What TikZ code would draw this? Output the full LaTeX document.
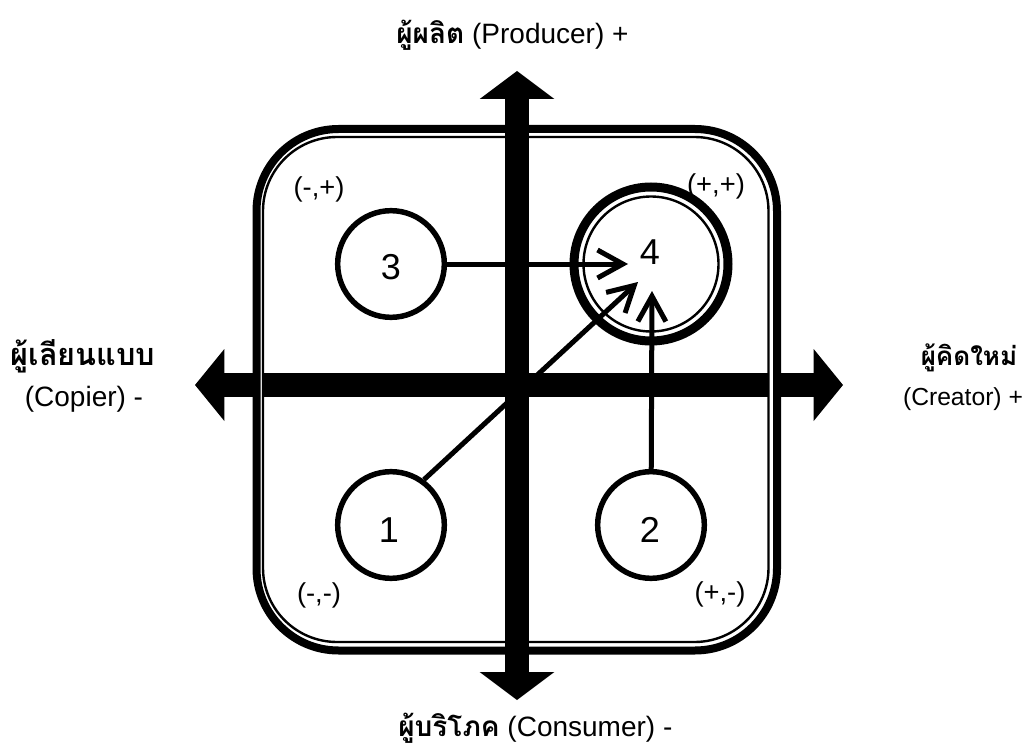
\documentclass[tikz,border=0pt]{standalone}
\usepackage{fontspec}
\setmainfont{Liberation Sans}
\newfontfamily\thaifont[Script=Thai]{Loma}
\usetikzlibrary{arrows.meta}
\begin{document}
\begin{tikzpicture}[x=0.75pt,y=-0.75pt,
  vaxis/.style={line width=18pt,
    {Triangle[length=21pt,width=56pt,line width=0pt]}-{Triangle[length=21pt,width=56pt,line width=0pt]}},
  haxis/.style={line width=17.5pt,
    {Triangle[length=22pt,width=54pt,line width=0pt]}-{Triangle[length=22pt,width=54pt,line width=0pt]}},
  circ/.style={circle,draw,line width=4.1pt,minimum size=80pt,inner sep=0pt,fill=white},
  ring/.style={circle,draw,line width=6.75pt,minimum size=115.5pt,inner sep=0pt,fill=white},
  num/.style={inner sep=0pt,font=\fontsize{27}{32}\selectfont},
  quad/.style={inner sep=0pt,font=\fontsize{20.5}{24}\selectfont},
  axlabel/.style={inner sep=0pt,font=\fontsize{21}{25}\selectfont},
  conn/.style={line width=3.75pt,-{Straight Barb[length=19pt,width=21pt,line width=3.75pt]}},
  th/.style={inner sep=0pt,font=\fontsize{21}{25}\selectfont\thaifont\bfseries}
]
\useasboundingbox (0,0) rectangle (1026,749);
% axis end points
\coordinate (L) at (195,385);
\coordinate (R) at (843,385);
\coordinate (T) at (517,71);
\coordinate (B) at (517,700);
% horizontal axis (under the frame)
\draw[haxis] (L) -- (R);
% frame
\draw[white,line width=6pt,rounded corners=58.5pt] (259.75,133) rectangle (773,646);
\draw[line width=6pt,rounded corners=61.5pt] (256.5,129) rectangle (777,650.5);
\draw[line width=1.8pt,rounded corners=55.5pt] (263,137) rectangle (768.5,642);
% vertical axis
\draw[vaxis] (B) -- (T);
% circles
\node[circ] (c3) at (391,264) {};
\node[circ] (c1) at (391,525) {};
\node[circ] (c2) at (651,525) {};
\node[ring] (c4) at (651,264) {};
\draw[line width=1.8pt] (c4.center) circle[radius=67.5];
% numbers
\node[num] (n3) at (391,267) {3};
\node[num] (n1) at (389,530) {1};
\node[num] (n2) at (650,530) {2};
\node[num] (n4) at (650,252) {4};
% arrow tips
\coordinate (t34) at (628,264);
\coordinate (t14) at (638,282);
\coordinate (t24) at (652,291);
\draw[conn] (c3) -- (t34);
\draw[conn] (c1.54) -- (t14);
\draw[conn] (c2) -- (t24);
% quadrant labels
\node[quad] (q1) at (319,189) {(-,+)};
\node[quad] (q2) at (716,186) {(+,+)};
\node[quad] (q3) at (319,595) {(-,-)};
\node[quad] (q4) at (720,594) {(+,-)};
% axis labels
\node[axlabel,anchor=base west] (lt) at (396,43.5) {{\thaifont\bfseries ผู้ผลิต} (Producer) +};
\node[axlabel,anchor=base west] (lb) at (398,736) {{\thaifont\bfseries ผู้บริโภค} (Consumer) -};
\node[th,anchor=base,font=\fontsize{23}{27}\selectfont\thaifont\bfseries] (ll1) at (83,365) {ผู้เลียนแบบ};
\node[axlabel,anchor=base] (ll2) at (84,406) {(Copier) -};
\node[th,anchor=base,font=\fontsize{19.5}{23}\selectfont\thaifont\bfseries] (lr1) at (969,365) {ผู้คิดใหม่};
\node[axlabel,anchor=base,font=\fontsize{18.5}{22}\selectfont] (lr2) at (963,405) {(Creator) +};
\end{tikzpicture}
\end{document}
